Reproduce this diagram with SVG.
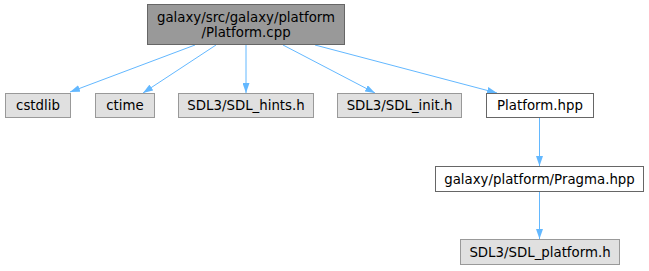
<svg xmlns="http://www.w3.org/2000/svg" width="649" height="271" viewBox="0 0 649 271">
  <style>
    text { font-family: "DejaVu Sans", sans-serif; font-size: 13.33px; fill: #000; text-anchor: middle; }
    .root rect { fill: #999999; stroke: #666666; }
    .ext rect { fill: #e0e0e0; stroke: #999999; }
    .file rect { fill: #ffffff; stroke: #666666; }
    .edge { stroke: #63b8ff; stroke-width: 1; fill: none; marker-end: url(#arrow); }
  </style>
  <defs>
    <marker id="arrow" viewBox="0 0 10 7" refX="10" refY="3.5" markerWidth="10" markerHeight="7" markerUnits="userSpaceOnUse" orient="auto">
      <path d="M0,0 L10,3.5 L0,7 z" fill="#63b8ff"/>
    </marker>
  </defs>
  <rect width="649" height="271" fill="#ffffff"/>

  <g id="edges">
    <line class="edge" x1="195" y1="45" x2="70" y2="92"/>
    <line class="edge" x1="216" y1="45" x2="143" y2="93"/>
    <line class="edge" x1="246" y1="45" x2="246" y2="93"/>
    <line class="edge" x1="283" y1="45" x2="375" y2="93"/>
    <line class="edge" x1="315" y1="45" x2="497" y2="93"/>
    <line class="edge" x1="539.5" y1="118" x2="539.5" y2="166"/>
    <line class="edge" x1="539.5" y1="192" x2="539.5" y2="239"/>
  </g>

  <g id="node_platform_cpp" class="root">
    <rect x="147.5" y="4.5" width="197" height="40"/>
    <text x="246" y="22">galaxy/src/galaxy/platform</text>
    <text x="246" y="37">/Platform.cpp</text>
  </g>
  <g id="node_cstdlib" class="ext">
    <rect x="5.5" y="93.5" width="65" height="24"/>
    <text x="38" y="110">cstdlib</text>
  </g>
  <g id="node_ctime" class="ext">
    <rect x="95.5" y="93.5" width="59" height="24"/>
    <text x="125" y="110">ctime</text>
  </g>
  <g id="node_sdl_hints" class="ext">
    <rect x="178.5" y="93.5" width="135" height="24"/>
    <text x="246" y="110">SDL3/SDL_hints.h</text>
  </g>
  <g id="node_sdl_init" class="ext">
    <rect x="337.5" y="93.5" width="124" height="24"/>
    <text x="399.5" y="110">SDL3/SDL_init.h</text>
  </g>
  <g id="node_platform_hpp" class="file">
    <rect x="486.5" y="93.5" width="107" height="24"/>
    <text x="540" y="110">Platform.hpp</text>
  </g>
  <g id="node_pragma_hpp" class="file">
    <rect x="435.5" y="166.5" width="208" height="25"/>
    <text x="539.5" y="183.5">galaxy/platform/Pragma.hpp</text>
  </g>
  <g id="node_sdl_platform" class="ext">
    <rect x="460.5" y="239.5" width="159" height="25"/>
    <text x="540" y="256.5">SDL3/SDL_platform.h</text>
  </g>
</svg>
